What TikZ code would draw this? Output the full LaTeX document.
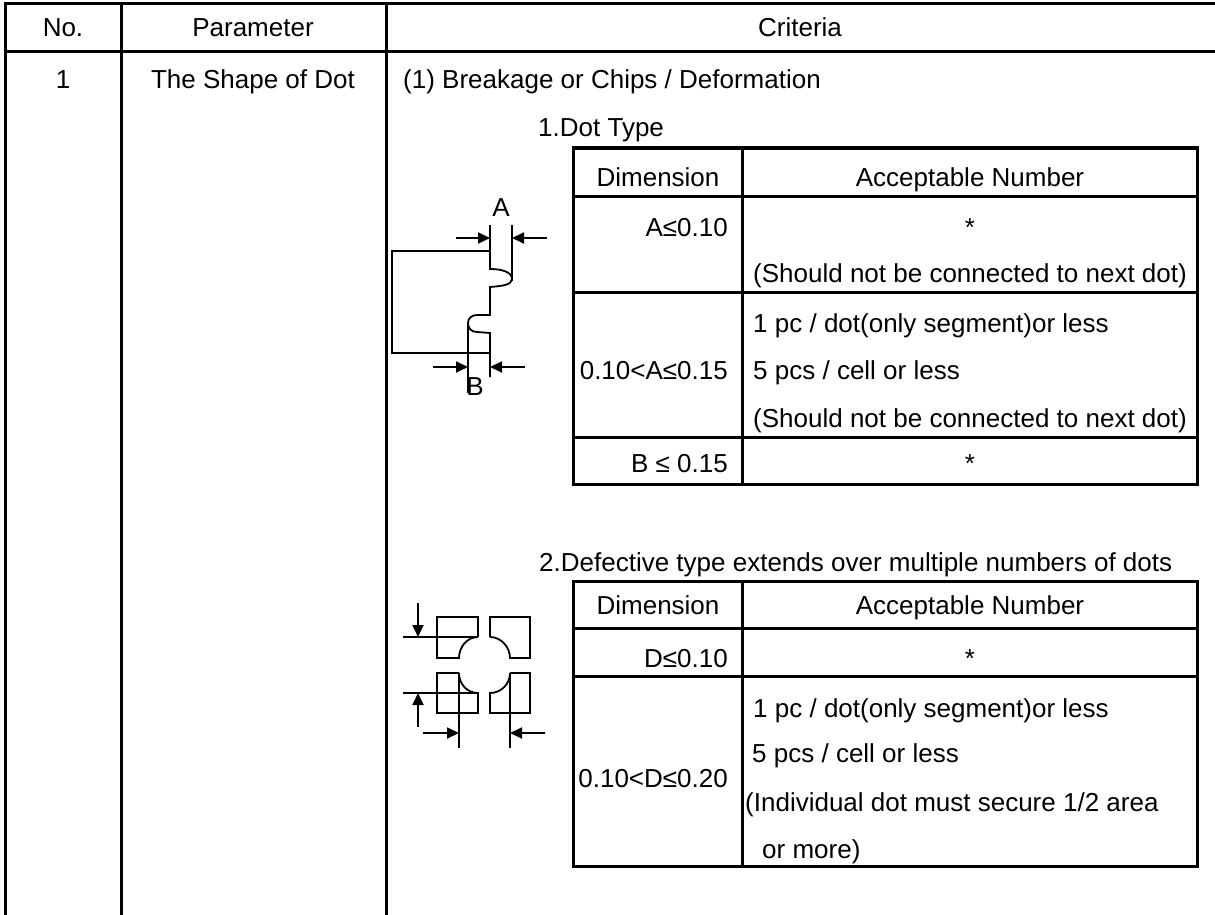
\documentclass[tikz,border=0pt]{standalone}
\usepackage{fontspec}
\setmainfont{Liberation Sans}
\usetikzlibrary{arrows.meta}
\begin{document}
\begin{tikzpicture}[x=1pt,y=-1pt,
  grid/.style={line width=3pt},
  itab/.style={line width=3pt},
  fig/.style={line width=1.8pt},
  dimarrow/.style={line width=1.8pt,-{Triangle[length=12pt,width=11pt]}},
  lt/.style={inner sep=0pt,anchor=base west,font=\fontsize{26}{30}\selectfont},
  rt/.style={lt,anchor=base east},
  ct/.style={lt,anchor=base},
]
\useasboundingbox (0,0) rectangle (1215,915);
% ---------- outer table ----------
\draw[grid] (3.5,4) -- (1215,4);
\draw[grid] (3.5,52) -- (1215,52);
\draw[grid] (5,2.5) -- (5,915);
\draw[grid] (121,2.5) -- (121,915);
\draw[grid] (386,2.5) -- (386,915);
\node[ct] (hno) at (63,37) {No.};
\node[ct] (hpar) at (253,37) {Parameter};
\node[ct] (hcrit) at (800,37) {Criteria};
\node[ct] (no1) at (63,89) {1};
\node[ct] (par1) at (253,89) {The Shape of Dot};
\node[lt] (c1) at (403,89) {(1) Breakage or Chips / Deformation};
\node[lt] (t1) at (538,136) {1.Dot Type};
\node[lt] (t2) at (539,571) {2.Defective type extends over multiple numbers of dots};
% ---------- inner table 1 ----------
\draw[itab] (573,148) rectangle (1197,484);
\draw[itab] (573,196) -- (1197,196);
\draw[itab] (573,292) -- (1197,292);
\draw[itab] (573,437) -- (1197,437);
\draw[itab] (742,148) -- (742,484);
\node[ct] (a-dim) at (658,186) {Dimension};
\node[ct] (a-acc) at (970,186) {Acceptable Number};
\node[rt] (a-r1) at (728,236) {A≤0.10};
\node[ct] (a-s1) at (970,236) {*};
\node[lt] (a-n1) at (753,282) {(Should not be connected to next dot)};
\node[lt] (a-n2) at (753,332) {1 pc / dot(only segment)or less};
\node[rt] (a-r2) at (728,379) {0.10<A≤0.15};
\node[lt] (a-n3) at (753,379) {5 pcs / cell or less};
\node[lt] (a-n4) at (753,427) {(Should not be connected to next dot)};
\node[rt] (a-r3) at (728,472) {B ≤ 0.15};
\node[ct] (a-s3) at (970,472) {*};
% ---------- inner table 2 ----------
\draw[itab] (573,581) rectangle (1197,866);
\draw[itab] (573,628) -- (1197,628);
\draw[itab] (573,676) -- (1197,676);
\draw[itab] (742,581) -- (742,866);
\node[ct] (b-dim) at (658,614) {Dimension};
\node[ct] (b-acc) at (970,614) {Acceptable Number};
\node[rt] (b-r1) at (728,667) {D≤0.10};
\node[ct] (b-s1) at (970,667) {*};
\node[lt] (b-n1) at (753,717) {1 pc / dot(only segment)or less};
\node[lt] (b-n2) at (752,762) {5 pcs / cell or less};
\node[rt] (b-r2) at (728,787) {0.10<D≤0.20};
\node[lt] (b-n3) at (745,811) {(Individual dot must secure 1/2 area};
\node[lt] (b-n4) at (762,858) {or more)};
% ---------- figure 1 ----------
\draw[fig] (490,251) -- (392,251) -- (392,353) -- (490,353);
\draw[fig] (490,225) -- (490,269)
  .. controls (502,269) and (512,272) .. (512,279)
  .. controls (512,285) and (502,286) .. (490,287)
  -- (490,315) -- (477,315)
  .. controls (471,315) and (468,319) .. (468,323)
  .. controls (468,328) and (471,332) .. (477,332)
  -- (490,333) -- (490,377);
\draw[fig] (512,225) -- (512,281);
\draw[fig] (468,323) -- (468,393);
\draw[dimarrow] (456,238) -- (490,238);
\draw[dimarrow] (547,238) -- (512,238);
\draw[dimarrow] (433,367) -- (468,367);
\draw[dimarrow] (525,367) -- (490,367);
\node[ct] (lblA) at (501,216) {A};
\node[ct] (lblB) at (475,395) {B};
% ---------- figure 2 ----------
\draw[fig] (478,637) -- (478,617) -- (437,617) -- (437,658) -- (459,658)
  .. controls (459,647) and (467,637) .. (478,637);
\draw[fig] (490,637) -- (490,617) -- (530,617) -- (530,658) -- (510,658)
  .. controls (510,647) and (501,637) .. (490,637);
\draw[fig] (459,673) -- (437,673) -- (437,713) -- (478,713) -- (478,693)
  .. controls (467,693) and (459,684) .. (459,673);
\draw[fig] (510,673) -- (530,673) -- (530,713) -- (490,713) -- (490,693)
  .. controls (501,693) and (510,684) .. (510,673);
\draw[fig] (403,637) -- (478,637);
\draw[fig] (403,693) -- (478,693);
\draw[fig] (459,673) -- (459,748);
\draw[fig] (510,673) -- (510,748);
\draw[dimarrow] (418,603) -- (418,637);
\draw[dimarrow] (418,727) -- (418,693);
\draw[dimarrow] (423,733) -- (459,733);
\draw[dimarrow] (545,733) -- (510,733);
\end{tikzpicture}
\end{document}
